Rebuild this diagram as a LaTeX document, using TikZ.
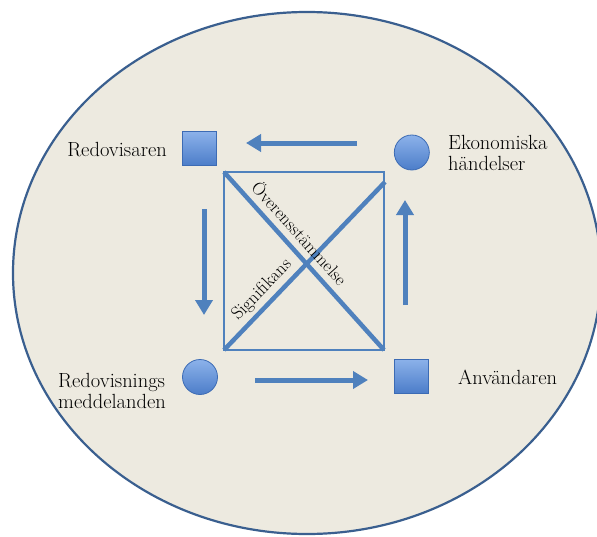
\documentclass[tikz,border=0pt]{standalone}
\usetikzlibrary{arrows.meta,shapes.geometric}
\definecolor{bgfill}{HTML}{EDEAE0}
\definecolor{rim}{HTML}{3A5F8F}
\definecolor{ablue}{HTML}{4F81BD}
\definecolor{sbord}{HTML}{3C6BB4}
\definecolor{stop}{HTML}{8CB2EA}
\definecolor{sbot}{HTML}{4C7DC9}
\tikzset{
  x=1pt, y=-1pt,
  shapebox/.style={draw=sbord, line width=0.8pt, top color=stop, bottom color=sbot, inner sep=0pt},
  sq/.style={shapebox, rectangle, minimum size=34pt},
  circ/.style={shapebox, circle, minimum size=35pt},
  flow/.style={draw=ablue, line width=5pt, -{Triangle[width=17pt,length=15pt]}},
  lbl/.style={font=\fontsize{20.5}{21}\selectfont, inner sep=0pt},
  diag/.style={draw=ablue, line width=4.5pt},
  dlbl/.style={font=\fontsize{18}{20}\selectfont, inner sep=0pt},
}
\begin{document}
\begin{tikzpicture}
\useasboundingbox (0,0) rectangle (597,536);
\clip (0,0) rectangle (597,536);
\node[ellipse, draw=rim, line width=2.2pt, fill=bgfill, minimum width=588pt, minimum height=522pt, inner sep=0pt] (oval) at (307,273) {};

\node[sq] (redov) at (199.7,148.3) {};
\node[circ] (ekon) at (411.8,152.5) {};
\node[circ] (medd) at (200,377) {};
\node[sq] (anv) at (411.8,376) {};

\node[lbl, anchor=base east] (tRedov) at (167,156) {Redovisaren};
\node[lbl, anchor=north west, align=left] (tEkon) at (448,135) {Ekonomiska\\händelser};
\node[lbl, anchor=north west, align=left] (tMedd) at (58,373) {Redovisnings\\meddelanden};
\node[lbl, anchor=base west] (tAnv) at (458,384) {Användaren};

\coordinate (rTL) at (224,172);
\coordinate (rBR) at (384,350);
\draw[draw=ablue, line width=2pt] (rTL) rectangle (rBR);
\coordinate (dA1) at (224,172);
\coordinate (dA2) at (384,350);
\coordinate (dB1) at (224,350);
\coordinate (dB2) at (385,182);
\draw[diag] (dA1) -- (dA2);
\draw[diag] (dB1) -- (dB2);

\node[dlbl, rotate=-48] (over) at (300,233) {Överensstämmelse};
\node[dlbl, rotate=46] (sign) at (262,290) {Signifikans};

\coordinate (a1s) at (357,143);
\coordinate (a1e) at (246,143);
\coordinate (a2s) at (204,209);
\coordinate (a2e) at (204,315);
\coordinate (a3s) at (255,380);
\coordinate (a3e) at (368,380);
\coordinate (a4s) at (405,305);
\coordinate (a4e) at (405,200);
\draw[flow] (a1s) -- (a1e);
\draw[flow] (a2s) -- (a2e);
\draw[flow] (a3s) -- (a3e);
\draw[flow] (a4s) -- (a4e);
\end{tikzpicture}
\end{document}
